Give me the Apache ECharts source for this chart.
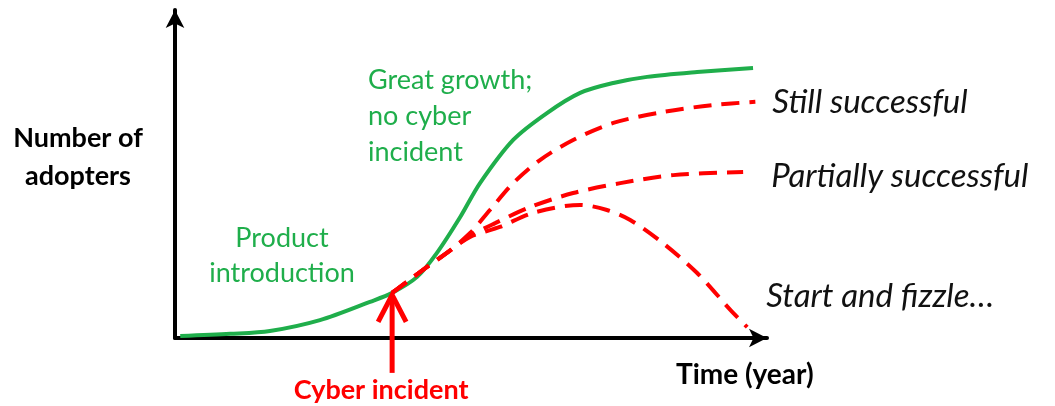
<!DOCTYPE html>
<html>
<head>
<meta charset="utf-8">
<script src="https://cdn.jsdelivr.net/npm/echarts@6/dist/echarts.min.js"></script>
<style>
    html, body { margin: 0; padding: 0; background: #fff; }
    #main { width: 1055px; height: 406px; }
</style>
</head>
<body>
<div id="main"></div>
<script>
// time (years) and adopters (%)
var greenX = [0.09, 0.95, 1.63, 2.49, 3.35, 3.73, 4.16, 4.50, 4.90, 5.24, 5.81, 6.39, 6.96, 7.53, 8.11, 8.97, 9.93];
var greenY = [0.6, 1.3, 2.2, 5.6, 11.3, 14.1, 19.1, 26.6, 37.8, 48.4, 61.9, 70.3, 76.6, 79.7, 81.6, 83.1, 84.4];

var stillX = [3.73, 4.26, 4.67, 5.07, 5.41, 5.81, 6.27, 6.84, 7.53, 8.38, 9.24, 9.97];
var stillY = [14.1, 21.3, 26.6, 32.8, 40.0, 48.4, 55.6, 61.9, 67.2, 70.6, 72.8, 73.8];

var partialX = [3.73, 4.26, 4.67, 5.07, 5.50, 6.10, 6.84, 7.65, 8.56, 9.76];
var partialY = [14.1, 21.3, 26.6, 31.9, 35.9, 40.9, 45.3, 48.4, 50.9, 51.9];

var fizzleX = [3.73, 4.26, 4.67, 5.07, 5.58, 6.15, 6.96, 7.42, 7.82, 8.38, 8.97, 9.54, 9.83];
var fizzleY = [14.1, 21.3, 26.6, 31.6, 34.7, 39.1, 41.6, 40.0, 36.9, 29.7, 20.3, 8.8, 3.4];

var incident = [3.73, 14.1];

var scenarioNames = ['Still successful', 'Partially successful', 'Start and fizzle…'];

var GREEN = '#1fae4b',
    RED = '#ff0000',
    FONT = 'Lato';

var pairs = function(xs, ys) {
    return xs.map(function(x, i) {
        return [x, ys[i]];
    });
};

var redSeries = function(name, data, offset) {
    return {
        name: name,
        type: 'line',
        data: data,
        smooth: 0.3,
        symbol: 'none',
        silent: true,
        z: 3,
        lineStyle: { color: RED, width: 4, type: [18, 10] },
        endLabel: {
            show: true,
            formatter: '{a}',
            distance: 0,
            offset: offset,
            color: '#111',
            fontFamily: FONT,
            fontStyle: 'italic',
            fontSize: 33
        }
    };
};

var chart = echarts.init(document.getElementById('main'));

chart.setOption({
    animation: false,
    grid: { left: 175, right: 288, top: 10, bottom: 68 },
    xAxis: {
        type: 'value',
        min: 0,
        max: 10.17,
        axisLine: { lineStyle: { color: '#000', width: 4 }, symbol: ['none', 'arrow'], symbolSize: [14, 18] },
        axisTick: { show: false },
        axisLabel: { show: false },
        splitLine: { show: false }
    },
    yAxis: {
        type: 'value',
        min: 0,
        max: 102.5,
        axisLine: { show: true, lineStyle: { color: '#000', width: 4 }, symbol: ['none', 'arrow'], symbolSize: [14, 18] },
        axisTick: { show: false },
        axisLabel: { show: false },
        splitLine: { show: false }
    },
    series: [{
        name: 'No cyber incident',
        type: 'line',
        data: pairs(greenX, greenY),
        smooth: 0.3,
        symbol: 'none',
        silent: true,
        z: 2,
        lineStyle: { color: GREEN, width: 4 }
    },
        redSeries(scenarioNames[0], pairs(stillX, stillY), [17, 1]),
        redSeries(scenarioNames[1], pairs(partialX, partialY), [28, 4]),
        redSeries(scenarioNames[2], pairs(fizzleX, fizzleY), [19, -31])
    ]
});

// annotations: axis titles, phase notes and the incident arrow
var tip = chart.convertToPixel({ gridIndex: 0 }, incident);

var note = function(text, x, y, font, fill, align, lineHeight) {
    return {
        type: 'text',
        x: x,
        y: y,
        style: {
            text: text,
            font: font,
            fill: fill,
            align: align,
            verticalAlign: 'middle',
            lineHeight: lineHeight
        }
    };
};

chart.setOption({
    graphic: [
        note('Number of\nadopters', 78, 157, 'bold 27px ' + FONT, '#000', 'center', 38),
        note('Time (year)', 676, 375, 'bold 28px ' + FONT, '#000', 'left', 30),
        note('Great growth;\nno cyber\nincident', 368, 116, '27px ' + FONT, GREEN, 'left', 36),
        note('Product\nintroduction', 282, 256, '27px ' + FONT, GREEN, 'center', 35),
        note('Cyber incident', tip[0] - 11, 390, 'bold 27px ' + FONT, RED, 'center', 30),
        {
            type: 'line',
            z: 10,
            shape: { x1: tip[0], y1: tip[1] + 2, x2: tip[0], y2: tip[1] + 80 },
            style: { stroke: RED, lineWidth: 5 }
        }, {
            type: 'polyline',
            z: 10,
            shape: { points: [[tip[0] - 14, tip[1] + 29], [tip[0], tip[1] + 2], [tip[0] + 14, tip[1] + 29]] },
            style: { stroke: RED, lineWidth: 5, fill: null, lineJoin: 'miter' }
        }
    ]
});
</script>
</body>
</html>
